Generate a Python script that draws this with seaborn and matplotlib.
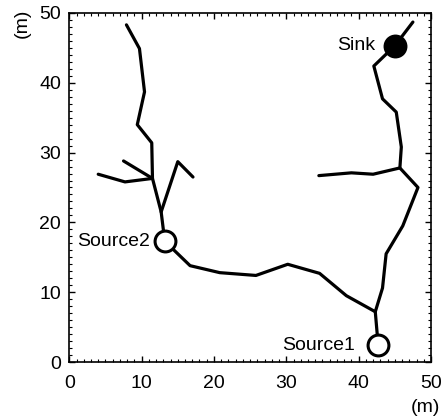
import matplotlib
matplotlib.use("Agg")
import matplotlib.pyplot as plt
import seaborn as sns
from matplotlib.ticker import MultipleLocator

sns.set_style("ticks")
plt.rcParams['font.family'] = ['Liberation Sans', 'DejaVu Sans']
plt.rcParams['text.color'] = 'black'
plt.rcParams['xtick.color'] = 'black'
plt.rcParams['ytick.color'] = 'black'
plt.rcParams['xtick.labelcolor'] = 'black'
plt.rcParams['ytick.labelcolor'] = 'black'

# Path segments (x, y in metres)
main_x = [47.5, 45.0, 42.1, 43.3, 45.2, 45.9, 45.7, 48.2, 46.1, 43.8, 43.3, 42.3,
          38.3, 34.6, 30.2, 25.8, 20.8, 16.7, 13.2, 12.7, 11.5, 11.4, 9.4, 10.4, 9.7, 7.9]
main_y = [48.7, 45.3, 42.4, 37.7, 35.8, 30.8, 27.8, 25.0, 19.5, 15.5, 10.6, 7.2,
          9.5, 12.7, 14.0, 12.4, 12.8, 13.8, 17.3, 21.5, 26.3, 31.4, 34.0, 38.7, 44.9, 48.3]
east_branch_x = [45.7, 42.0, 39.0, 34.5]
east_branch_y = [27.8, 26.9, 27.1, 26.7]
source1_link_x = [42.3, 42.7]
source1_link_y = [7.2, 2.4]
west_branch_x = [11.5, 7.7, 4.0]
west_branch_y = [26.3, 25.8, 26.9]
nw_branch_x = [11.5, 7.5]
nw_branch_y = [26.3, 28.8]
ne_branch_x = [12.7, 15.0, 17.1]
ne_branch_y = [21.5, 28.7, 26.5]

nodes = ["Sink", "Source1", "Source2"]
node_x = [45.0, 42.7, 13.2]
node_y = [45.3, 2.4, 17.3]
node_filled = [True, False, False]

ticks = [0, 10, 20, 30, 40, 50]

fig = plt.figure(figsize=(4.45, 4.16), dpi=100)
ax = fig.add_axes([0.1557, 0.1298, 0.8128, 0.8390])

for xs, ys in [(main_x, main_y), (east_branch_x, east_branch_y),
               (source1_link_x, source1_link_y), (west_branch_x, west_branch_y),
               (nw_branch_x, nw_branch_y), (ne_branch_x, ne_branch_y)]:
    sns.lineplot(x=xs, y=ys, sort=False, estimator=None, color="black",
                 linewidth=2.3, ax=ax, zorder=2)

label_gap = [2.7, 3.2, 2.0]
for name, nx, ny, filled, gap in zip(nodes, node_x, node_y, node_filled, label_gap):
    ax.plot([nx], [ny], marker="o", markersize=15,
            markerfacecolor="black" if filled else "white",
            markeredgecolor="black", markeredgewidth=2.2, zorder=3)
    ax.text(nx - gap, ny, name, ha="right", va="center", fontsize=14, color="black")

ax.set_xlim(0, 50)
ax.set_ylim(0, 50)
ax.set_xticks(ticks)
ax.set_yticks(ticks)
ax.set_xticklabels([str(t) for t in ticks], fontsize=14)
ax.set_yticklabels([str(t) for t in ticks], fontsize=14)
ax.xaxis.set_minor_locator(MultipleLocator(1))
ax.yaxis.set_minor_locator(MultipleLocator(1))
ax.tick_params(which="both", direction="in", top=True, right=True, color="black")
ax.tick_params(which="major", length=4, width=1, pad=6)
ax.tick_params(axis="x", which="major", pad=9)
ax.tick_params(which="minor", length=2, width=0.8)
for sp in ax.spines.values():
    sp.set_visible(True)
    sp.set_color("black")
    sp.set_linewidth(1.2)
ax.set_xlabel("")
ax.set_ylabel("")

fig.text(425 / 445, 1 - 407 / 416, "(m)", ha="center", va="center", fontsize=14, color="black")
fig.text(22 / 445, 1 - 23 / 416, "(m)", ha="center", va="center", fontsize=14,
         rotation=90, color="black")

fig.savefig("out.png", dpi=100)
